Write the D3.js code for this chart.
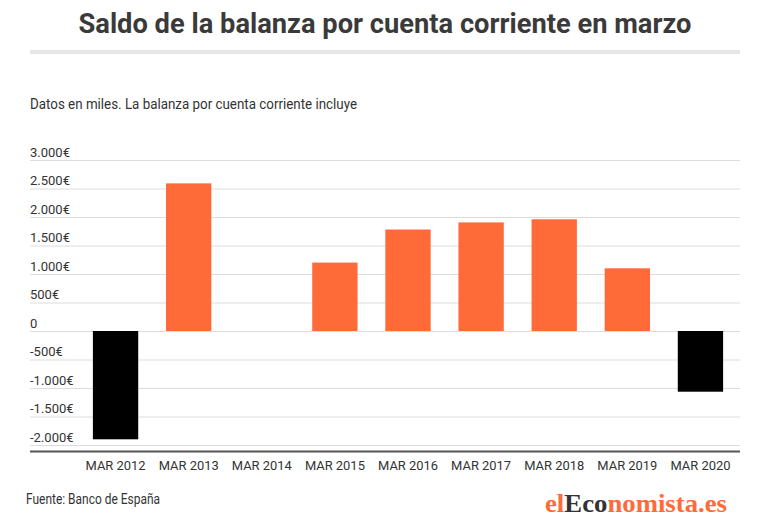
<!DOCTYPE html>
<html>
<head>
<meta charset="utf-8">
<script src="https://cdn.jsdelivr.net/npm/d3@7"></script>
<style>
  body { margin: 0; background: #fff; }
  svg { display: block; font-family: Roboto, "Noto Sans", sans-serif; }
</style>
</head>
<body>
<div id="chart"></div>
<script>
// Data (saldo, miles de euros)
var categories = ["MAR 2012", "MAR 2013", "MAR 2014", "MAR 2015", "MAR 2016",
                  "MAR 2017", "MAR 2018", "MAR 2019", "MAR 2020"];
var saldo = [-1900, 2590, 0, 1200, 1780, 1905, 1960, 1100, -1065];
var yTickValues = [3000, 2500, 2000, 1500, 1000, 500, 0, -500, -1000, -1500, -2000];
var yTickLabels = ["3.000€", "2.500€", "2.000€", "1.500€", "1.000€", "500€", "0",
                   "-500€", "-1.000€", "-1.500€", "-2.000€"];

function init() {
    var w = 770, h = 517;
    var left = 30, right = 740;
    var orange = "#ff6a39";

    var svg = d3.select("#chart").append("svg")
        .attr("width", w)
        .attr("height", h);

    // Title and separator
    svg.append("text")
        .attr("x", w / 2)
        .attr("y", 33)
        .attr("text-anchor", "middle")
        .attr("font-size", 28)
        .attr("font-weight", "bold")
        .attr("fill", "#3a3a3a")
        .attr("textLength", 613)
        .attr("lengthAdjust", "spacingAndGlyphs")
        .text("Saldo de la balanza por cuenta corriente en marzo");

    svg.append("rect")
        .attr("x", left)
        .attr("y", 50)
        .attr("width", right - left)
        .attr("height", 4)
        .attr("fill", "#e6e6e6");

    svg.append("text")
        .attr("x", left)
        .attr("y", 109)
        .attr("font-size", 14)
        .attr("fill", "#333")
        .attr("textLength", 327)
        .attr("lengthAdjust", "spacingAndGlyphs")
        .text("Datos en miles. La balanza por cuenta corriente incluye");

    // Scales
    var x = d3.scaleBand()
        .domain(categories)
        .range([79, 737])
        .paddingInner(0.38)
        .paddingOuter(0.19);

    var y = d3.scaleLinear()
        .domain([-2000, 3000])
        .range([445, 160]);

    // Gridlines + y labels
    var yAxis = d3.axisRight(y)
        .tickValues(yTickValues)
        .tickSize(right - left)
        .tickFormat(function(d, i) { return yTickLabels[i]; });

    var gy = svg.append("g")
        .attr("transform", "translate(" + left + ",0)")
        .call(yAxis);
    gy.select(".domain").remove();
    gy.selectAll(".tick line")
        .attr("stroke", "#dcdcdc")
        .attr("stroke-width", 1);
    gy.selectAll(".tick text")
        .attr("x", 0)
        .attr("dy", -4)
        .attr("font-size", 13)
        .attr("font-family", "Roboto, sans-serif")
        .attr("fill", "#333")
        .attr("text-anchor", "start");

    // Bars
    svg.selectAll(".bar")
        .data(saldo)
        .enter()
        .append("rect")
        .attr("class", "bar")
        .attr("x", function(d, i) { return x(categories[i]); })
        .attr("y", function(d) { return y(Math.max(0, d)); })
        .attr("width", x.bandwidth())
        .attr("height", function(d) { return Math.abs(y(d) - y(0)); })
        .attr("fill", function(d) { return d < 0 ? "#000" : orange; });

    // X axis
    var xAxis = d3.axisBottom(x).tickSize(0).tickPadding(10);
    var gx = svg.append("g")
        .attr("transform", "translate(0,451)")
        .call(xAxis);
    gx.select(".domain").remove();
    gx.selectAll(".tick text")
        .attr("font-size", 13)
        .attr("font-family", "Roboto, sans-serif")
        .attr("fill", "#333")
        .attr("textLength", 60)
        .attr("lengthAdjust", "spacingAndGlyphs");

    svg.append("line")
        .attr("x1", left)
        .attr("x2", right)
        .attr("y1", 451.5)
        .attr("y2", 451.5)
        .attr("stroke", "#555")
        .attr("stroke-width", 2);

    // Footer
    svg.append("text")
        .attr("x", 26)
        .attr("y", 504)
        .attr("font-size", 14)
        .attr("fill", "#333")
        .attr("textLength", 134)
        .attr("lengthAdjust", "spacingAndGlyphs")
        .text("Fuente: Banco de España");

    var logo = svg.append("text")
        .attr("x", 727)
        .attr("y", 512)
        .attr("text-anchor", "end")
        .attr("font-family", "'Liberation Serif', 'DejaVu Serif', serif")
        .attr("font-weight", "bold")
        .attr("font-size", 25)
        .attr("textLength", 182)
        .attr("lengthAdjust", "spacingAndGlyphs");
    logo.append("tspan").attr("fill", orange).text("el");
    logo.append("tspan").attr("fill", "#333").text("Eco");
    logo.append("tspan").attr("fill", orange).text("nomista.es");
}

window.onload = init;
</script>
</body>
</html>
